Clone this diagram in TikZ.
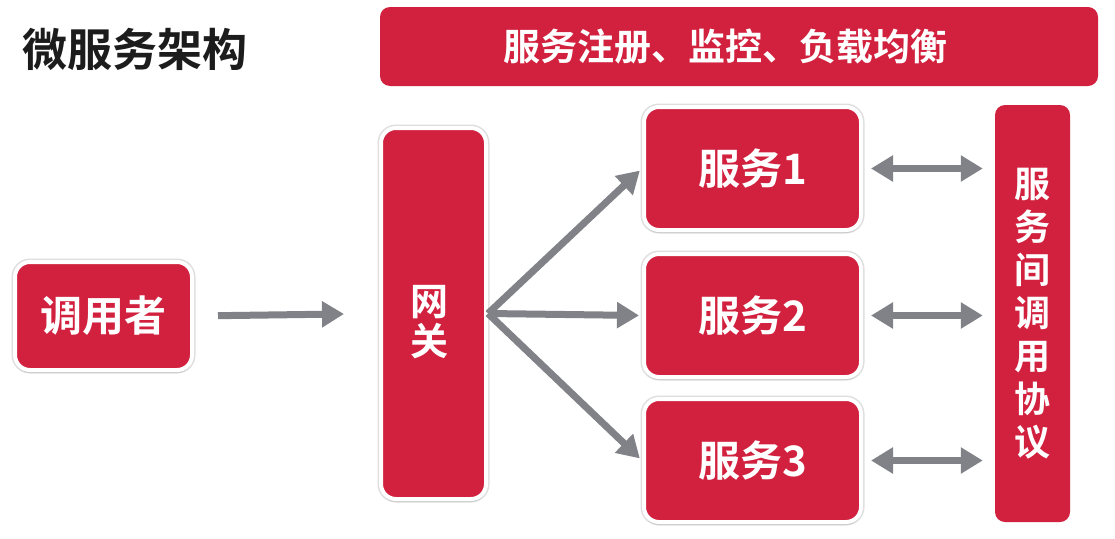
\documentclass[tikz,border=0pt]{standalone}
\usepackage{fontspec}
\newfontfamily\cjkb{Noto Sans CJK SC Bold}
\usetikzlibrary{arrows.meta,shadows}
\definecolor{boxred}{RGB}{210,33,62}
\definecolor{arrgray}{RGB}{128,130,136}
\tikzset{
  redbox/.style={fill=boxred, draw=white, line width=4pt, rounded corners=15pt,
    preaction={draw=black!13, line width=7pt},
    drop shadow={opacity=0.2, shadow xshift=0pt, shadow yshift=-3pt},
    text=white, font=\cjkb\fontsize{42}{50}\selectfont, align=center},
  barbox/.style={fill=boxred, rounded corners=10pt, text=white, align=center},
  arr/.style={draw=arrgray, line width=7pt, -{Triangle[length=22pt,width=25pt]}},
  darr/.style={draw=arrgray, line width=7pt, {Triangle[length=22pt,width=25pt]}-{Triangle[length=22pt,width=25pt]}}
}
\begin{document}
\begin{tikzpicture}[x=1pt, y=-1pt]
    \useasboundingbox (0,0) rectangle (1115,538);

    % Title
    \node (title) at (135,49) {\cjkb\fontsize{45}{50}\selectfont\color[RGB]{28,28,28}微服务架构};

    % Bars
    \node[barbox, minimum width=718pt, minimum height=79pt, font=\cjkb\fontsize{37}{44}\selectfont]
      (reg) at (739,46.5) {服务注册、监控、负载均衡\hspace*{28pt}};
    \node[barbox, minimum width=75pt, minimum height=417pt, font=\cjkb\fontsize{36}{43}\selectfont]
      (proto) at (1032.5,313.5) {服\\务\\间\\调\\用\\协\\议};

    % Boxes
    \node[redbox, minimum width=177pt, minimum height=108pt] (caller) at (103.5,316) {调用者};
    \node[redbox, minimum width=105pt, minimum height=371pt] (gw) at (433.5,313.5) {};
    \node[text=white, font=\cjkb\fontsize{38}{40}\selectfont, align=center] (gwtext) at (429,322) {网\\关};
    \foreach \i/\y in {1/168.5, 2/315.5, 3/460.5}
      \node[redbox, minimum width=217pt, minimum height=123pt] (s\i) at (752.5,\y) {服务\i};

    % Arrows
    \draw[arr, shorten <=24pt, shorten >=35pt] (caller.east) -- (gw.west);
    \foreach \i in {1,2,3}
      \draw[arr, shorten >=3pt] (gw.east) -- (s\i.west);
    \foreach \i in {1,2,3}
      \draw[darr, shorten <=8pt, shorten >=12pt] (s\i.east) -- (s\i.east -| proto.west);
\end{tikzpicture}
\end{document}
